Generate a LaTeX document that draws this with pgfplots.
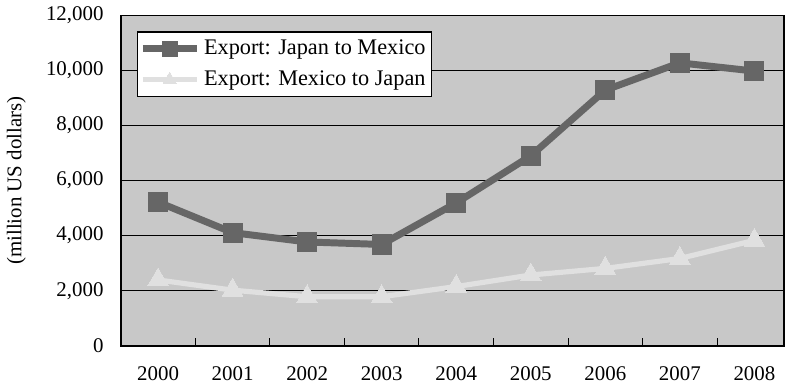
\documentclass[border=0pt]{standalone}
\usepackage{pgfplots}
\pgfplotsset{compat=1.18}
\usepackage{fontspec}
\setmainfont{Liberation Serif}
\definecolor{bg}{HTML}{C8C8C8}
\definecolor{darkl}{HTML}{666666}
\definecolor{lightl}{HTML}{E0E0E0}
\begin{document}
\fontsize{10.5}{12}\selectfont
\begin{tikzpicture}
\begin{axis}[
  name=ax,
  scale only axis,
  width=333.5pt, height=166pt,
  xmin=-0.5, xmax=8.4,
  ymin=0, ymax=12000,
  axis background/.style={fill=bg},
  axis line style={black, line width=0.8pt},
  xtick={0,...,8},
  xticklabels={2000,2001,2002,2003,2004,2005,2006,2007,2008},
  minor xtick={0.5,1.5,...,7.5},
  minor tick length=4pt,
  major tick length=0pt,
  xtick pos=bottom, ytick pos=left,
  minor tick style={black, line width=0.5pt},
  xticklabel style={yshift=-7pt},
  ytick={0,2000,...,12000},
  yticklabel style={xshift=-5pt},
  ymajorgrids,
  major grid style={black, line width=0.5pt},
  /pgf/number format/assume math mode=true,
  /pgf/number format/1000 sep={,},
  scaled y ticks=false,
  ylabel={(million US dollars)},
  ylabel style={at={(axis description cs:0,0.5)}, anchor=south, xshift=0pt, yshift=44pt},
  every tick label/.style={font=\fontsize{10.5}{12}\selectfont},
  legend style={at={(axis description cs:0.024,0.952)}, anchor=north west, draw=black, line width=0.6pt, fill=white, font=\fontsize{11.2}{12}\selectfont, row sep=2.5pt, inner xsep=1pt, inner ysep=2pt},
  legend cell align=left,
  legend image code/.code={\draw[#1] (0cm,0cm) -- (0.95cm,0cm); \draw[#1, only marks, mark size=3.8pt] plot coordinates {(0.475cm,0cm)};},
  clip=false,
]
\addplot[darkl, line width=3.5pt, mark=square*, mark size=4.8pt, mark options={fill=darkl, draw=darkl, line width=0pt}]
  coordinates {(0,5220) (1,4110) (2,3770) (3,3680) (4,5190) (5,6900) (6,9290) (7,10280) (8,9980)};
\addlegendentry{Export: Japan to Mexico}
\addplot[lightl, line width=2.6pt, mark=triangle*, mark size=6pt, mark options={fill=lightl, draw=lightl, line width=0pt}]
  coordinates {(0,2390) (1,2020) (2,1780) (3,1780) (4,2150) (5,2570) (6,2810) (7,3170) (8,3830)};
\addlegendentry{Export: Mexico to Japan}
\end{axis}
\path[use as bounding box] ([xshift=-59pt,yshift=-19.5pt]ax.south west) rectangle ([yshift=7pt]ax.north east);
\end{tikzpicture}
\end{document}
